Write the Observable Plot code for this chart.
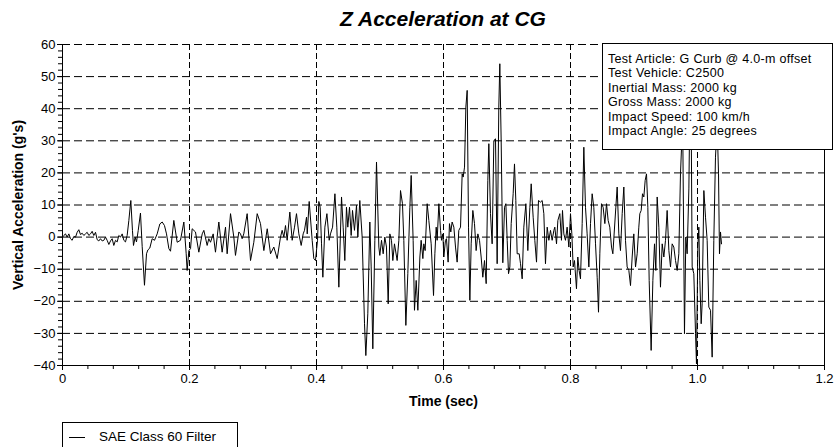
<!DOCTYPE html>
<html><head><meta charset="utf-8">
<script src="https://cdn.jsdelivr.net/npm/d3@7"></script>
<script src="https://cdn.jsdelivr.net/npm/@observablehq/plot@0.6"></script>
<style>
body{margin:0;background:#fff;font-family:"Liberation Sans",Arial,sans-serif;color:#000;}
#wrap{position:relative;width:836px;height:447px;overflow:hidden;background:#fff;}
#title{position:absolute;left:62px;width:762px;top:7px;text-align:center;font-size:21px;font-weight:bold;font-style:italic;}
#info{position:absolute;left:602px;top:43px;width:231px;height:107px;box-sizing:border-box;border:1px solid #000;background:#fff;font-size:12.5px;padding:8px 0 0 5px;white-space:nowrap;letter-spacing:0.3px;}
#info div{height:14.4px;line-height:14.4px;}
#legend{position:absolute;left:62px;top:422px;width:176px;height:40px;box-sizing:border-box;border:1px solid #000;background:#fff;font-size:13.5px;}
#legend .sw{position:absolute;left:6px;top:14px;width:16px;height:0;border-top:1px solid #000;}
#legend .tx{position:absolute;left:36px;top:6px;white-space:nowrap;}
g[aria-label="y-axis label"] text, g[aria-label="x-axis label"] text{font-weight:bold;font-size:14px;}
</style></head>
<body>
<div id="wrap">
<div id="chart"></div>
<div id="title">Z Acceleration at CG</div>
<div id="info"></div>
<div id="legend"><div class="sw"></div><div class="tx"></div></div>
</div>
<script>
const time = [0,0.0021,0.0047,0.0073,0.0100,0.0126,0.0152,0.0178,0.0205,0.0231,0.0257,0.0283,0.0310,0.0336,0.0362,0.0388,0.0415,0.0441,0.0467,0.0493,0.0520,0.0546,0.0572,0.0598,0.0625,0.0651,0.0677,0.0703,0.0730,0.0756,0.0782,0.0808,0.0835,0.0861,0.0887,0.0913,0.0940,0.0966,0.0992,0.1018,0.1045,0.1076,0.1102,0.1118,0.1144,0.1165,0.1192,0.1228,0.1255,0.1291,0.1323,0.1344,0.1375,0.1412,0.1449,0.1491,0.1533,0.1570,0.1606,0.1638,0.1675,0.1701,0.1753,0.1806,0.1858,0.1911,0.1948,0.1963,0.1990,0.2016,0.2042,0.2094,0.2147,0.2200,0.2226,0.2278,0.2304,0.2331,0.2373,0.2409,0.2462,0.2514,0.2567,0.2593,0.2646,0.2698,0.2724,0.2777,0.2803,0.2829,0.2855,0.2908,0.2961,0.3013,0.3066,0.3118,0.3171,0.3224,0.3276,0.3328,0.3381,0.3433,0.3459,0.3486,0.3512,0.3538,0.3580,0.3617,0.3654,0.3685,0.3722,0.3759,0.3790,0.3811,0.3843,0.3854,0.3885,0.3932,0.3958,0.3984,0.4016,0.4037,0.4058,0.4079,0.4100,0.4132,0.4164,0.4200,0.4220,0.4253,0.4290,0.4320,0.4352,0.4394,0.4420,0.4446,0.4472,0.4493,0.4520,0.4546,0.4567,0.4598,0.4630,0.4651,0.4682,0.4719,0.4756,0.4777,0.4808,0.4840,0.4861,0.4887,0.4919,0.4945,0.4982,0.4997,0.5024,0.5050,0.5076,0.5102,0.5129,0.5155,0.5181,0.5202,0.5228,0.5270,0.5297,0.5323,0.5354,0.5375,0.5407,0.5438,0.5470,0.5491,0.5522,0.5543,0.5570,0.5596,0.5628,0.5648,0.5675,0.5690,0.5711,0.5743,0.5769,0.5806,0.5843,0.5864,0.5885,0.5900,0.5927,0.5953,0.5969,0.5990,0.6005,0.6031,0.6047,0.6073,0.6094,0.6115,0.6136,0.6163,0.6189,0.6215,0.6241,0.6268,0.6294,0.6310,0.6331,0.6352,0.6373,0.6394,0.6415,0.6436,0.6462,0.6488,0.6514,0.6541,0.6567,0.6593,0.6619,0.6646,0.6672,0.6698,0.6714,0.6740,0.6766,0.6793,0.6819,0.6845,0.6871,0.6887,0.6908,0.6934,0.6961,0.6982,0.7003,0.7024,0.7045,0.7066,0.7097,0.7118,0.7139,0.7160,0.7192,0.7213,0.7239,0.7265,0.7297,0.7328,0.7360,0.7381,0.7412,0.7438,0.7465,0.7496,0.7528,0.7554,0.7580,0.7606,0.7633,0.7659,0.7685,0.7711,0.7738,0.7753,0.7780,0.7801,0.7832,0.7858,0.7874,0.7895,0.7921,0.7947,0.7974,0.8000,0.8021,0.8042,0.8063,0.8094,0.8115,0.8136,0.8157,0.8184,0.8210,0.8236,0.8262,0.8289,0.8315,0.8341,0.8367,0.8394,0.8420,0.8441,0.8462,0.8488,0.8514,0.8541,0.8567,0.8593,0.8619,0.8646,0.8667,0.8714,0.8735,0.8761,0.8787,0.8814,0.8840,0.8866,0.8892,0.8919,0.8945,0.8971,0.8997,0.9024,0.9050,0.9076,0.9092,0.9113,0.9134,0.9155,0.9176,0.9197,0.9218,0.9239,0.9270,0.9297,0.9323,0.9344,0.9365,0.9391,0.9417,0.9444,0.9470,0.9496,0.9522,0.9549,0.9575,0.9601,0.9627,0.9654,0.9680,0.9706,0.9732,0.9753,0.9765,0.9795,0.9816,0.9837,0.9864,0.9879,0.9900,0.9916,0.9942,0.9969,0.9984,1.0005,1.0021,1.0037,1.0058,1.0073,1.0100,1.0126,1.0152,1.0178,1.0205,1.0231,1.0257,1.0283,1.0310,1.0331,1.0346,1.0362,1.0378];
const accel = [0,0.5,1.0,0,1.0,-0.5,-1.0,0.2,0,1.5,2.3,0.8,1.2,0.5,1.0,1.5,0.5,1.0,1.8,0.5,1.5,-0.8,-1.2,-0.5,-1.2,-1.0,0,-1.0,-2.3,-1.2,-0.5,-2.6,-1.0,-1.5,0.5,0,1.0,-1.0,-1.5,0.5,5.2,11.4,2,-2.6,0,-1.5,2,7.5,-3,-15,-5.2,-4,-3.4,-0.5,-1,1,4.1,4.7,3.6,1,-3.6,-4.4,5.2,-1.6,-1.0,4.7,-5.2,-10.4,-4.2,-3.6,2.6,1.6,-4.7,1.0,2.1,-2.6,-0.5,-1.6,1.0,-4.7,4.7,-4.7,3.1,-5.2,7.3,0,-5.7,1.6,1.0,-0.5,1.0,7.3,-7.3,-1.6,7.3,4.2,-4.2,2.6,-5.2,-3.1,-6.7,0,2.1,0,3.6,-1.0,7.8,-1.0,3.1,7.3,1.0,-2.6,1.0,2.1,6.2,1.0,11.1,-1.0,-6.7,-7.3,-1.0,11.1,9.3,-2.1,-12.5,3.1,7.3,-1.0,1.0,3.1,13.5,3.1,-15.6,12.5,3.1,-7.3,9.3,3.1,9.3,0.5,8.3,2.1,9.9,0,11.4,0,-27.0,-36.9,-23.9,4.7,-9.3,-34.8,-1.0,23.4,-3.1,-5.7,-1.0,-5.2,0,-3.1,-20.8,1.0,-1.0,-7.3,-2.1,-7.3,-1.0,14.5,10.4,-1.0,-27.5,-11.4,9.3,19.2,-1.0,-22.8,-13.5,-22.8,-6.2,-1.0,-6.7,-2.1,-4.2,10.4,5.2,-2.1,-18.2,-5.2,3.1,-1.0,10.4,2.1,-1.0,1.0,-6.2,-1.0,-0.5,-7.8,4.2,1.6,4.7,3.1,-3.1,-7.8,2.1,3.1,19.7,18.7,21.8,40.5,45.7,3.1,-19.7,-2.1,8.3,4.2,-4.2,1.0,-1.0,-6.2,-12.5,-7.3,-14.5,17.7,29.1,7.3,-2.1,30.1,30.6,-8.3,40.5,54.0,30.1,-8.0,9.3,10.4,-1.0,-11.4,-9.3,4.2,13.5,22.8,11.4,-5.2,-5.2,-8.3,-13.0,3.1,10.4,-4.2,9.3,16.6,6.2,-1.0,-7.8,11.4,10.9,11.4,7.3,-8.3,3.1,-1.0,2.1,-1.0,2.1,3.1,-2.1,5.2,7.3,-1.0,8.3,1.0,-1.0,3.1,-3.1,7.3,1.0,-9.3,-7.3,-16.1,-6.2,-10.4,-13.0,4.2,28.0,9.3,1.0,-9.3,4.2,13.5,9.3,-2.1,-12.5,-23.4,-5.2,10.4,9.3,4.2,10.4,5.2,3.1,-3.1,-5.2,9.3,15.6,1.0,-4.2,7.3,15.6,-1.0,-9.3,-10.4,-15.1,-6.2,1.0,-9.3,-5.2,3.1,7.3,8.3,13.5,12.5,17.7,19.7,9.3,-13.5,-35.3,-13.5,-2.1,-10.4,12.5,3.1,-15.6,-2.1,-6.2,-1.0,8.3,-4.2,-9.3,-2.1,-3.1,-7.3,-10.4,-5.2,19.7,30.1,40,-30.1,0,-5.2,15,40,38,-9.3,-11.4,-30.1,-39.5,-3.1,3.1,-13.5,-27.0,-20.8,14.5,6.2,-1.0,-21.8,-22.8,-37.4,-1.0,24.9,35,19.7,-5.2,1.6,-2.1];

const yMajor = [-40,-30,-20,-10,0,10,20,30,40,50,60];
const yGrid = [-30,-20,-10,0,10,20,30,40,50,60];
const xMajor = [0,0.2,0.4,0.6,0.8,1.0,1.2];
const xGrid = [0.2,0.4,0.6,0.8,1.0];
const infoLines = ["Test Article: G Curb @ 4.0-m offset","Test Vehicle: C2500","Inertial Mass: 2000 kg","Gross Mass: 2000 kg","Impact Speed: 100 km/h","Impact Angle: 25 degrees"];
const seriesName = "SAE Class 60 Filter";

const data = time.map((t, i) => ({t, a: accel[i]}));
const yMinor = d3.range(-40, 60.001, 2);
const xMinor = d3.range(0, 1.2001, 0.04);

const chart = Plot.plot({
  width: 836, height: 447,
  marginLeft: 62, marginRight: 12, marginTop: 44, marginBottom: 82,
  x: {domain: [0, 1.2]},
  y: {domain: [-40, 60]},
  style: {fontFamily: "Liberation Sans, Arial, sans-serif", fontSize: "13px", color: "#000", background: "#fff", overflow: "visible"},
  marks: [
    Plot.ruleY(yGrid, {stroke: "#000", strokeDasharray: "8,4"}),
    Plot.ruleX(xGrid, {stroke: "#000", strokeDasharray: "6,3"}),
    Plot.line(data, {x: "t", y: "a", stroke: "#000", strokeWidth: 1}),
    Plot.ruleX([0, 1.2], {stroke: "#000"}),
    Plot.ruleY([-40], {stroke: "#000"}),
    Plot.axisY({ticks: yMinor, tickSize: 4, tickFormat: () => "", label: null}),
    Plot.axisY({ticks: yMajor, tickSize: 5, tickPadding: 2, label: "Vertical Acceleration (g's)", labelAnchor: "center", labelArrow: "none", labelOffset: 49}),
    Plot.axisX({ticks: xMinor, tickSize: 4, tickFormat: () => "", label: null}),
    Plot.axisX({ticks: xMajor, tickSize: 5, tickPadding: 3, tickFormat: d => d === 0 ? "0" : d.toFixed(1), label: "Time (sec)", labelAnchor: "center", labelArrow: "none", labelOffset: 40})
  ]
});
document.getElementById("chart").appendChild(chart);
const info = document.getElementById("info");
infoLines.forEach(s => { const d = document.createElement("div"); d.textContent = s; info.appendChild(d); });
document.querySelector("#legend .tx").textContent = seriesName;
</script>
</body></html>
